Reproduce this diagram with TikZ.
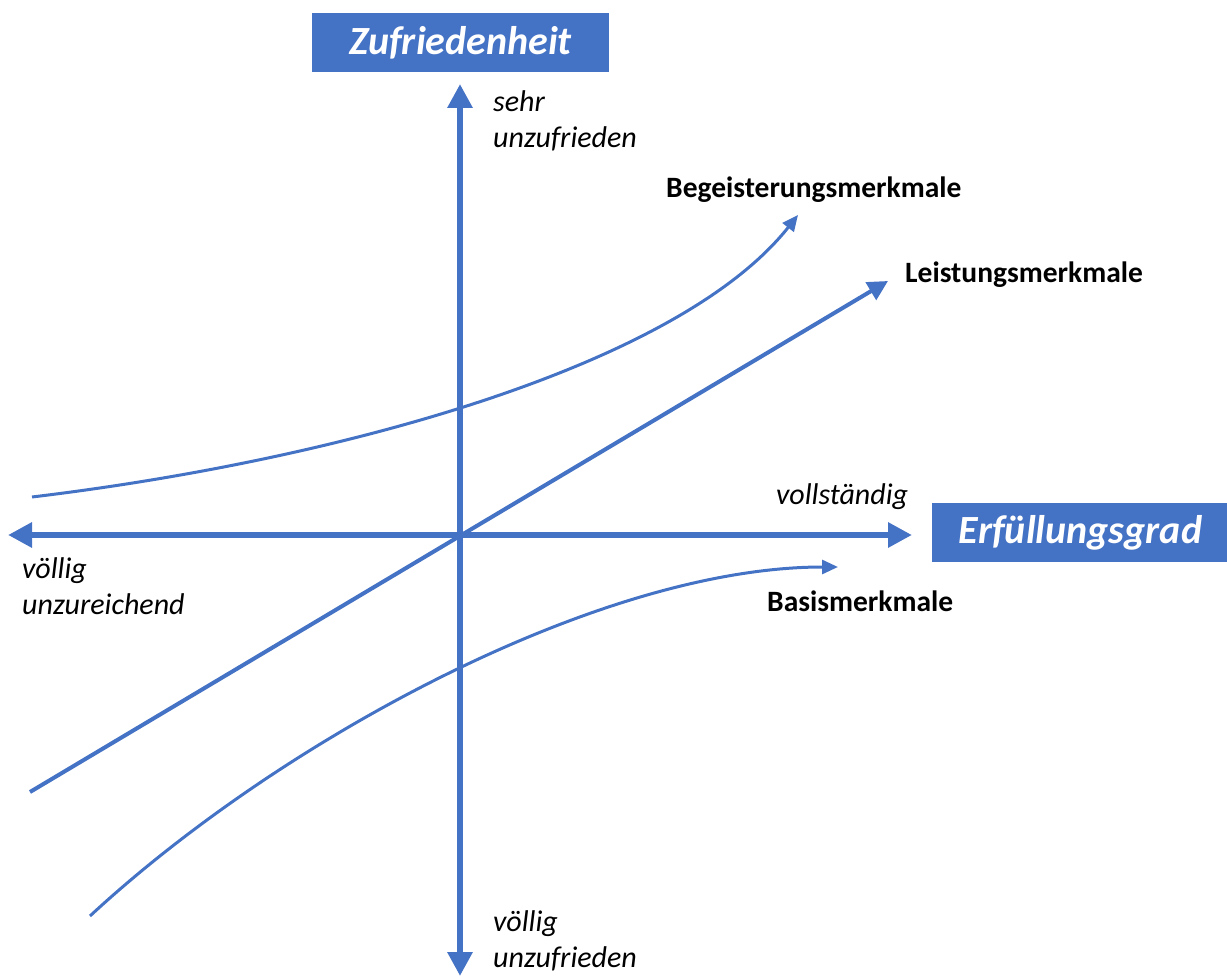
\documentclass[tikz,border=0pt]{standalone}
\usepackage{fontspec}
\setmainfont{Carlito}
\usetikzlibrary{arrows.meta}
\definecolor{ablue}{HTML}{4472C4}
\begin{document}
\begin{tikzpicture}[x=1pt,y=-1pt,
  axis/.style={draw=ablue,line width=6pt,-{Triangle[length=24pt,width=24pt]}},
  curve/.style={draw=ablue,line width=3pt,-{Triangle[length=16pt,width=14pt]}},
  lin/.style={draw=ablue,line width=4pt,-{Triangle[length=20pt,width=20pt]}},
  titlebox/.style={fill=ablue,text=white,font=\fontsize{40}{46}\selectfont\bfseries\itshape,inner sep=0pt,anchor=center},
  lab/.style={font=\fontsize{30}{36.5}\selectfont\itshape,align=left,anchor=north west,inner sep=0pt},
  blab/.style={font=\fontsize{29.5}{34}\selectfont\bfseries,anchor=west,inner sep=0pt}]
\useasboundingbox (0,0) rectangle (1227,976);
\coordinate (o) at (460,535);
\coordinate (top) at (460,84);
\coordinate (bot) at (460,976);
\coordinate (left) at (8,535);
\coordinate (right) at (912,535);
\draw[axis] (o) -- (top);
\draw[axis] (o) -- (bot);
\draw[axis] (o) -- (left);
\draw[axis] (o) -- (right);
% Leistungsmerkmale
\coordinate (ls) at (30,792);
\coordinate (le) at (888,281);
\draw[lin] (ls) -- (le);
% Begeisterung
\coordinate (bs) at (32,497);
\coordinate (be) at (798,215);
\draw[curve] (bs) .. controls (332,461) and (677,368) .. (be);
% Basis
\coordinate (ks) at (90,916);
\coordinate (ke) at (838,567);
\draw[curve] (ks) .. controls (280,740) and (600,567) .. (ke);
% boxes
\node[titlebox,minimum width=297pt,minimum height=59pt] (zt) at (460.5,42.5) {Zufriedenheit};
\node[titlebox,minimum width=297pt,minimum height=59pt] (et) at (1080.5,532.5) {Erfüllungsgrad};
% labels
\node[lab] (sehr) at (493,90) {sehr\\unzufrieden};
\node[lab] (vu) at (493,910) {völlig\\unzufrieden};
\node[lab] (vz) at (22,557) {völlig\\unzureichend};
\node[lab,anchor=west] (voll) at (776,497) {vollständig};
\node[blab] (beg) at (666,190) {Begeisterungsmerkmale};
\node[blab] (lei) at (905,275) {Leistungsmerkmale};
\node[blab] (bas) at (767,601) {Basismerkmale};
\end{tikzpicture}
\end{document}
